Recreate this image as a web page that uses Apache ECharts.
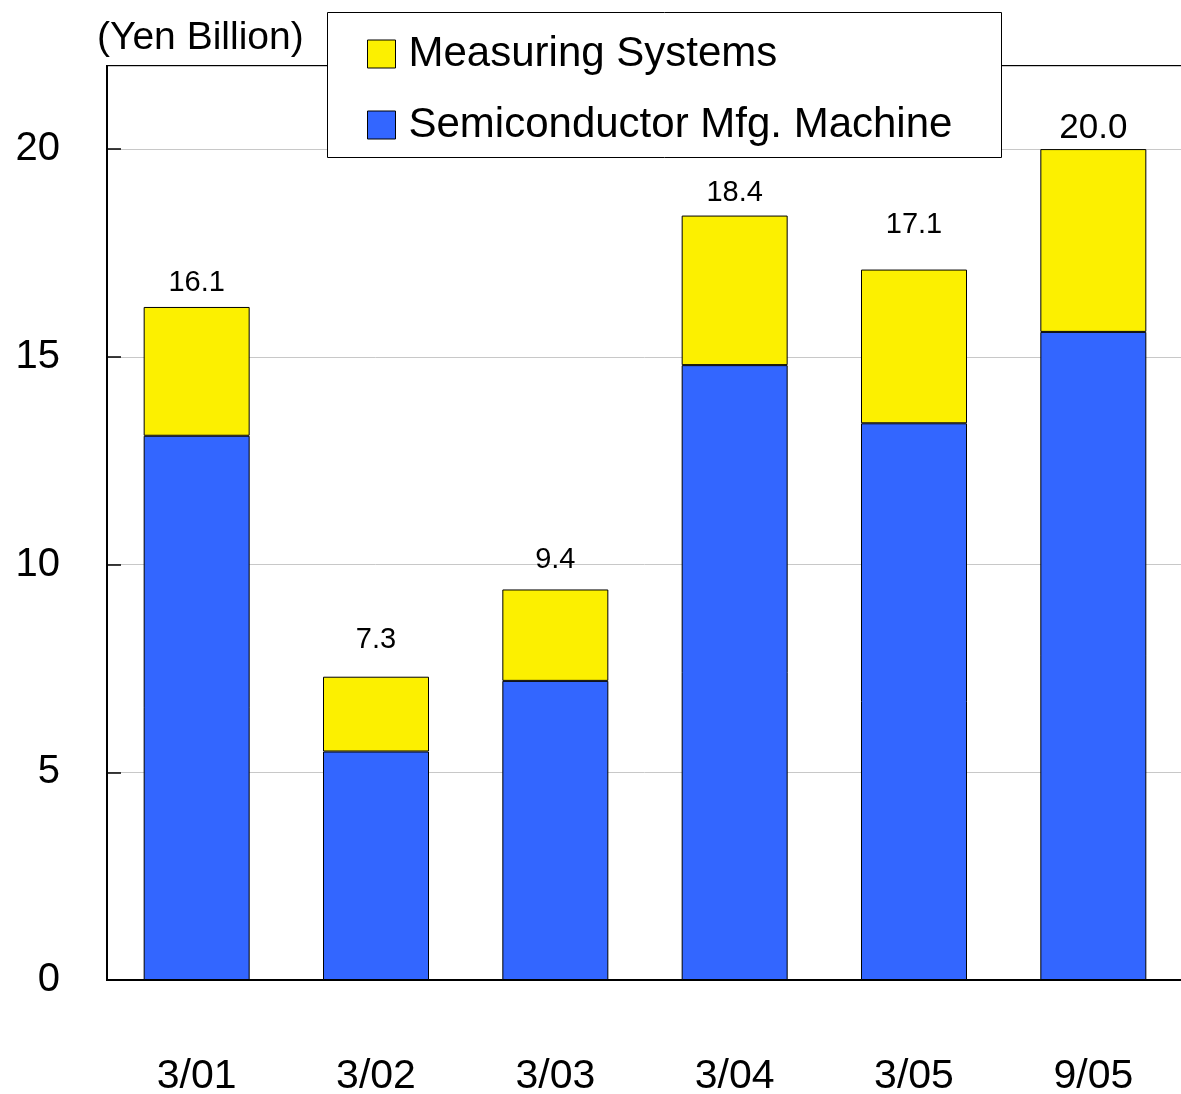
<!DOCTYPE html>
<html>
<head>
<meta charset="utf-8">
<script src="https://cdn.jsdelivr.net/npm/echarts@6/dist/echarts.min.js"></script>
<style>
  html, body { margin: 0; padding: 0; background: #fff; overflow: hidden; }
  #sales { width: 100vw; height: 100vh; }
</style>
</head>
<body>
<div id="sales"></div>
<script>
// values (Yen Billion)
const periods = ['3/01', '3/02', '3/03', '3/04', '3/05', '9/05'];
const semiconductor = [13.1, 5.5, 7.2, 14.8, 13.4, 15.6];
const measuring = [3.1, 1.8, 2.2, 3.6, 3.7, 4.4];
const totalLabels = ['16.1', '7.3', '9.4', '18.4', '17.1', '20.0'];
const yTicks = [0, 5, 10, 15, 20];

// gap between bar top and its total label, per bar
const labelGap = [9, 22, 15, 8, 30, 3];

let chart = echarts.init(document.getElementById('sales'));
const font = 'Liberation Sans, Arial, sans-serif';

let options = {
  animation: false,
  backgroundColor: '#fff',
  textStyle: { fontFamily: font },
  grid: {
    left: 107, top: 66, width: 1076, height: 914,
    outerBoundsMode: 'none',
    show: true, borderColor: '#000', borderWidth: 2
  },
  legend: {
    left: 367, top: 33,
    orient: 'vertical',
    icon: 'rect',
    itemWidth: 28, itemHeight: 28, itemGap: 29,
    z: 20,
    padding: 0,
    textStyle: { fontFamily: font, fontSize: 42, color: '#000', padding: [0, 0, 0, 8] },
    data: [
      { name: 'Measuring Systems', itemStyle: { borderColor: '#000', borderWidth: 1 } },
      { name: 'Semiconductor Mfg. Machine', itemStyle: { borderColor: '#000', borderWidth: 1 } }
    ]
  },
  graphic: [
    {
      type: 'rect', z: 10,
      shape: { x: 327.5, y: 12.5, width: 674, height: 145 },
      style: { fill: '#fff', stroke: '#000', lineWidth: 1 }
    },
    {
      type: 'text', left: 97, top: 19, z: 10,
      style: { text: '(Yen Billion)', font: '39px ' + font, fill: '#000' }
    }
  ],
  xAxis: {
    type: 'category',
    data: periods,
    axisLine: { lineStyle: { color: '#000', width: 2 } },
    axisTick: { inside: true, length: 14, lineStyle: { color: '#000', width: 1 } },
    axisLabel: { color: '#000', fontSize: 41, margin: 76, fontFamily: font }
  },
  yAxis: {
    type: 'value',
    min: 0, max: 22, interval: 5,
    axisLine: { show: true, lineStyle: { color: '#000', width: 2 } },
    axisTick: { show: true, inside: true, length: 14, lineStyle: { color: '#000', width: 1.5 } },
    axisLabel: {
      color: '#000', fontSize: 40, margin: 47, fontFamily: font,
      showMaxLabel: false,
      formatter: v => yTicks.includes(v) ? String(v) : ''
    },
    splitLine: { lineStyle: { color: '#c8c8c8', width: 1 } }
  },
  series: [
    {
      name: 'Semiconductor Mfg. Machine',
      type: 'bar',
      stack: 'total',
      barWidth: 106,
      itemStyle: { color: '#3366FF', borderColor: '#000', borderWidth: 1 },
      data: semiconductor
    },
    {
      name: 'Measuring Systems',
      type: 'bar',
      stack: 'total',
      barWidth: 106,
      itemStyle: { color: '#FCF000', borderColor: '#000', borderWidth: 1 },
      data: measuring.map((v, i) => ({
        value: v,
        label: {
          show: true,
          position: 'top',
          distance: labelGap[i],
          fontSize: i === 5 ? 35 : 29,
          color: '#000',
          fontFamily: font,
          formatter: () => totalLabels[i]
        }
      }))
    }
  ]
};
chart.setOption(options);
window.addEventListener('resize', function () {
  chart.resize();
});
</script>
</body>
</html>
